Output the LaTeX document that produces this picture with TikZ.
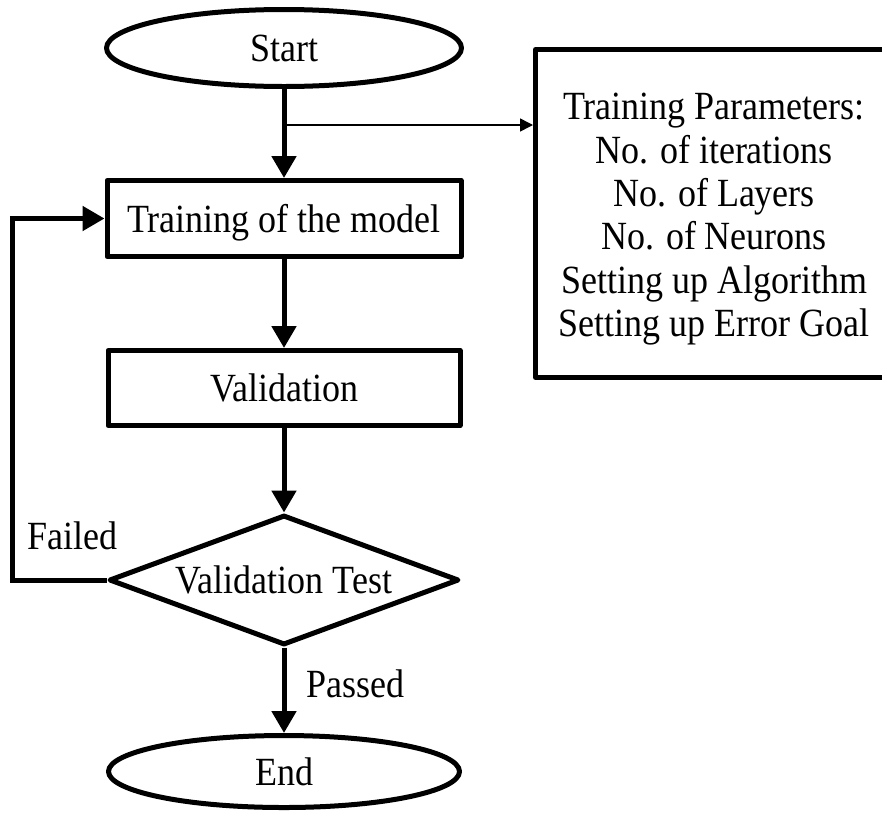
\documentclass[tikz,border=0pt]{standalone}
\usepackage{fontspec}
\setmainfont{Liberation Serif}[FakeStretch=0.9]
\usetikzlibrary{shapes.geometric,arrows.meta}
\begin{document}
\begin{tikzpicture}[x=1pt,y=-1pt,
  every node/.style={font=\fontsize{40}{43.4}\selectfont, inner sep=0pt, line width=5pt, line join=round},
  term/.style={draw, ellipse, text depth=0pt},
  proc/.style={draw, rectangle, text depth=0pt},
  parbox/.style={draw, rectangle},
  dec/.style={draw, diamond, aspect=2.7, text depth=0pt},
  flow/.style={line width=5pt, line join=miter, -{Triangle[length=22pt,width=24pt]}},
  thinflow/.style={line width=1.5pt, -{Triangle[length=13pt,width=13pt]}},
  lbl/.style={anchor=west}]
\useasboundingbox (0,0) rectangle (882,812);
\clip (0,0) rectangle (882,812);
\node[term, minimum width=355pt, minimum height=77pt] (start) at (284,48) {Start};
\node[proc, minimum width=354pt, minimum height=76pt] (train) at (284,218.5) {Training of the model};
\node[proc, minimum width=352pt, minimum height=75pt] (valid) at (284,388) {Validation};
\node[dec, minimum width=350pt, minimum height=130pt] (test) at (284,580) {Validation Test};
\node[term, minimum width=351pt, minimum height=72pt] (end) at (284,771.5) {End};
\node[parbox, minimum width=357pt, minimum height=328pt] (params) at (714,213.5)
  {\raisebox{-6pt}[\height][\depth]{\begin{tabular}{@{}c@{}}Training Parameters:\\No. of iterations\\No. of Layers\\No. of Neurons\\Setting up Algorithm\\Setting up Error Goal\end{tabular}}};
\node[lbl] (failed) at (25,536) {Failed};
\node[lbl] (passed) at (304,684) {Passed};
\coordinate (br) at (284,125);
\coordinate (lp) at (12,580);
\draw[flow] (start.south) -- (train.north);
\draw[thinflow] (br) -- (br -| params.west);
\draw[flow] (train.south) -- (valid.north);
\draw[flow] (valid.south) -- (test.north);
\draw[flow] (test.south) -- (end.north);
\draw[flow] (test.west) -- (lp) |- (train.west);
\end{tikzpicture}
\end{document}
